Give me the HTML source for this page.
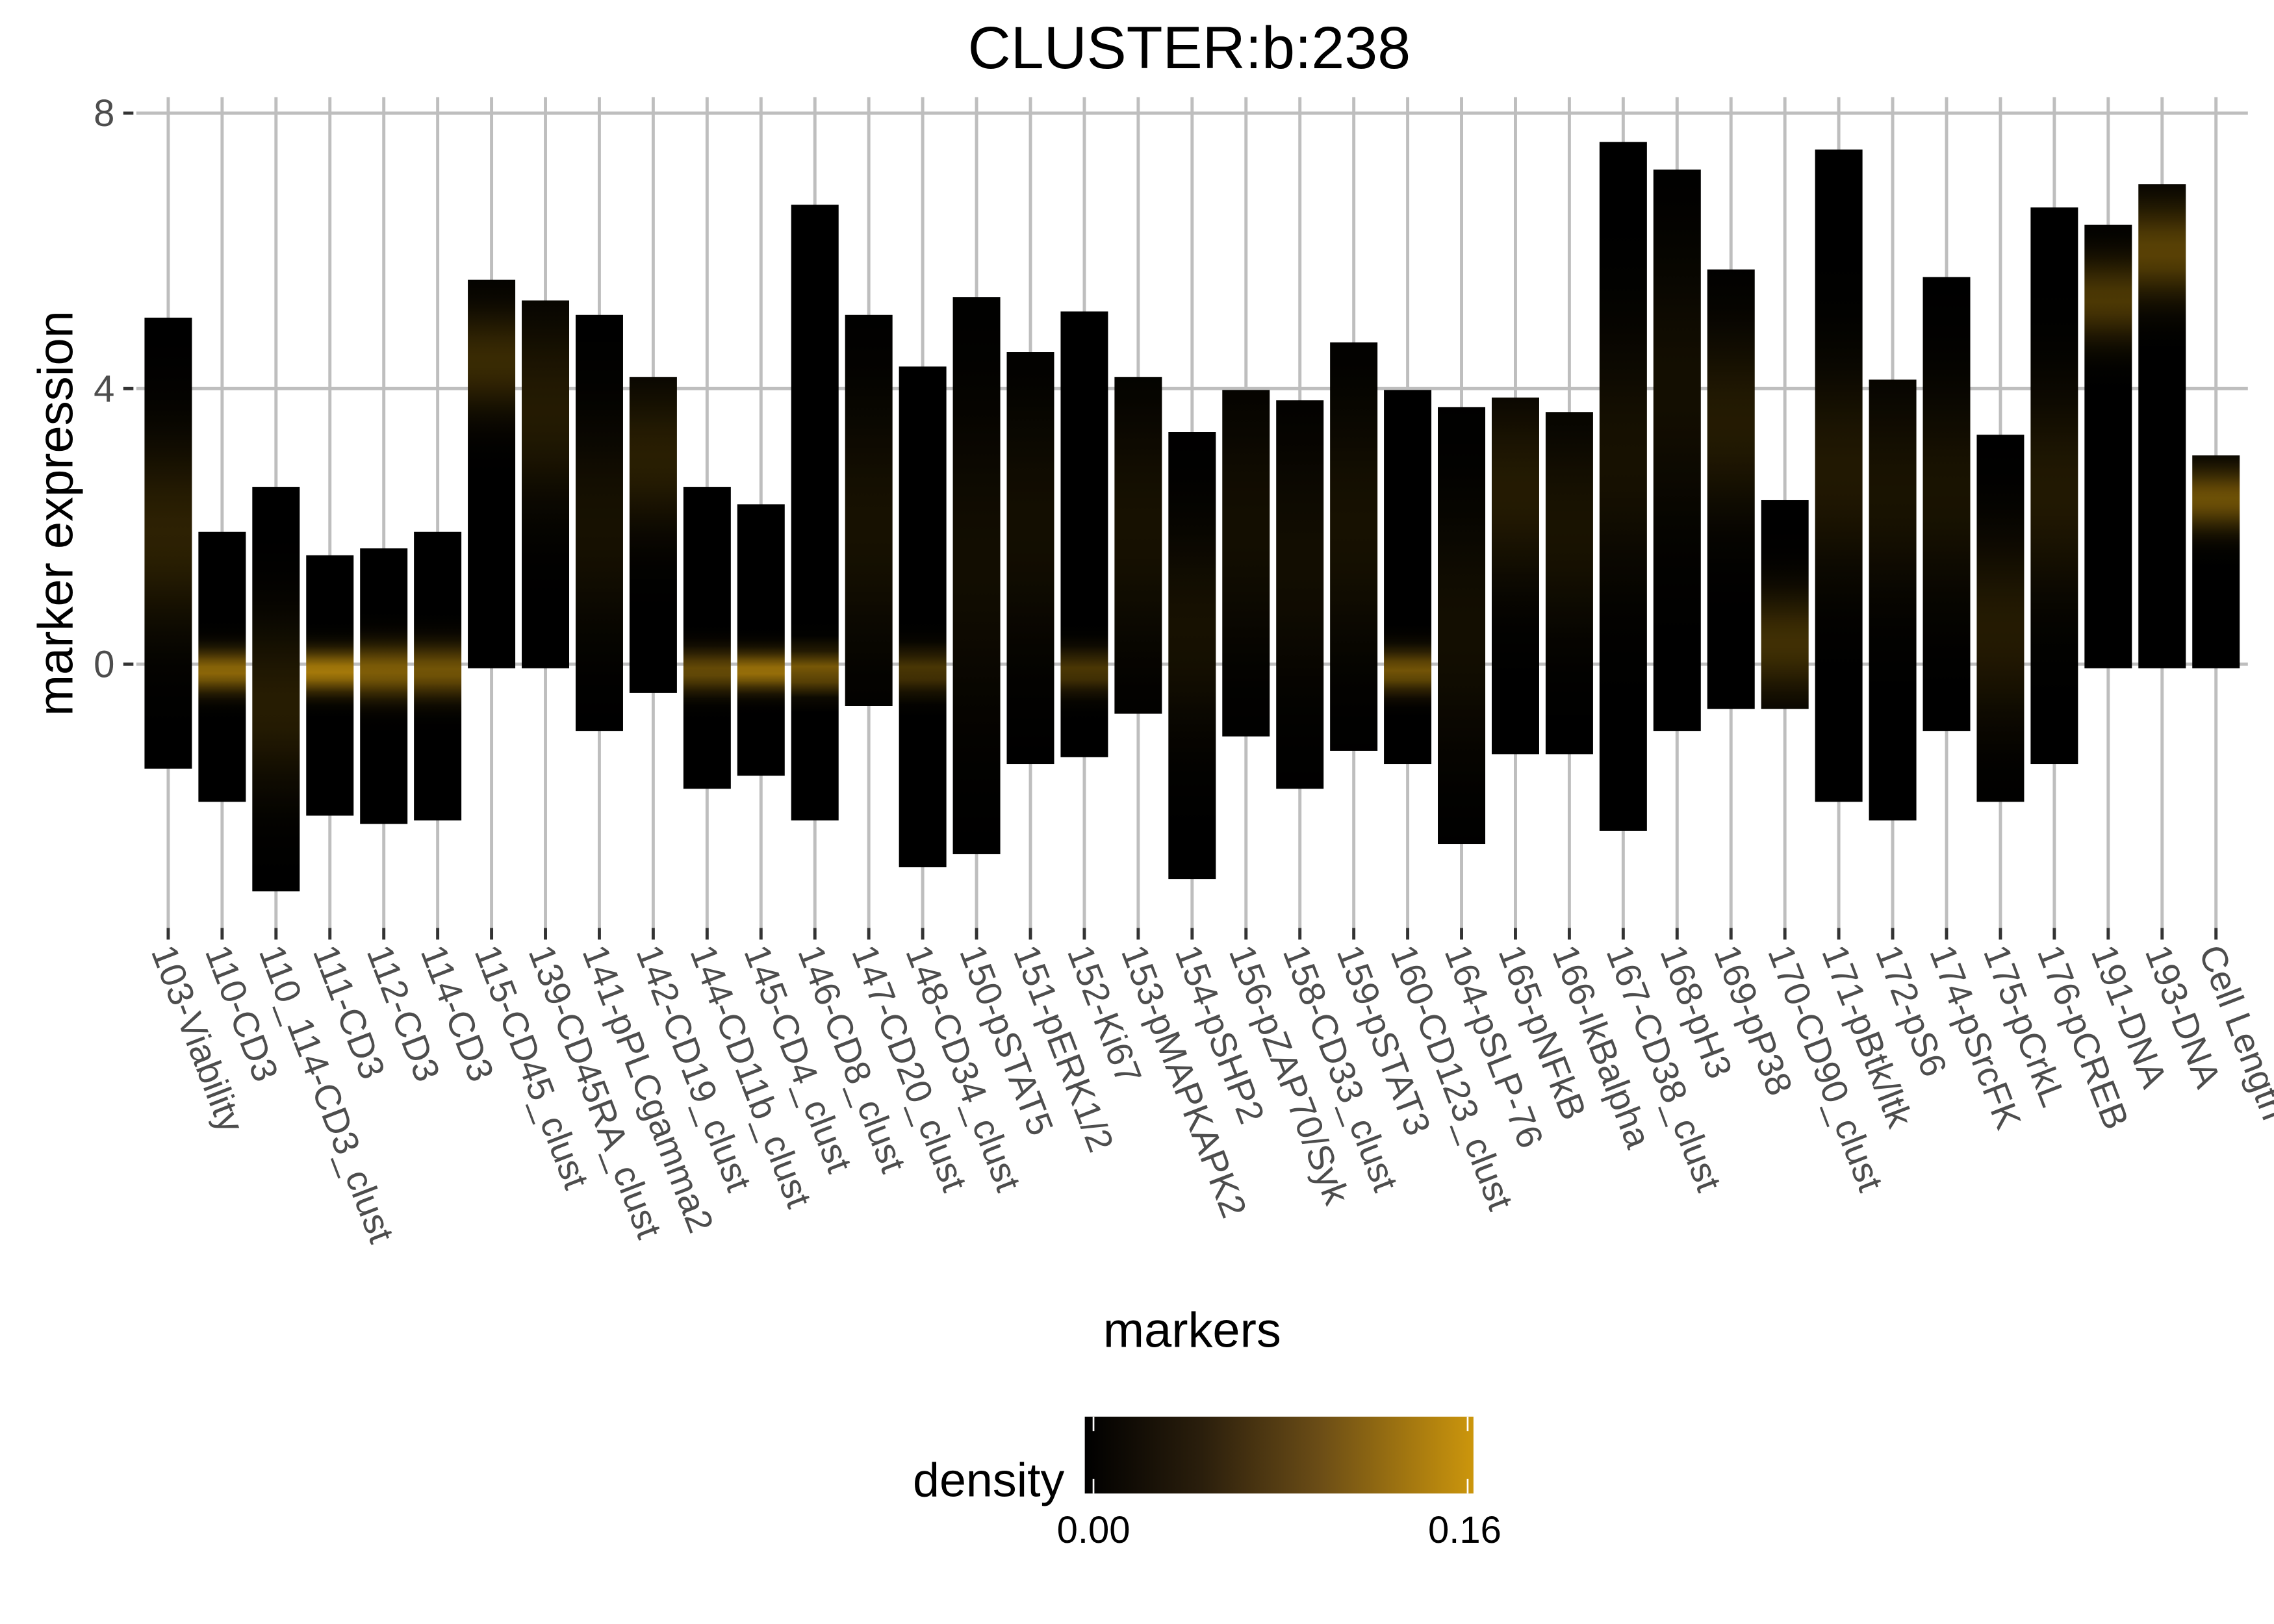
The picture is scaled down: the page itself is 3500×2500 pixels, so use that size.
<!DOCTYPE html>
<html><head><meta charset="utf-8"><style>
html,body{margin:0;padding:0;background:#fff;}
svg{display:block;font-family:"Liberation Sans",Arial,sans-serif;}
</style></head><body>
<svg id="chart" width="3500" height="2500" viewBox="0 0 1568 1120" xmlns="http://www.w3.org/2000/svg">
<defs id="defs">
<linearGradient id="legendGrad" x1="0" y1="0" x2="1" y2="0">
<stop offset="0" stop-color="#000"/><stop offset="0.3" stop-color="#2a1e0c"/><stop offset="0.6" stop-color="#6a4c16"/><stop offset="1" stop-color="#cc960c"/>
</linearGradient>
</defs>
<g id="grid"></g>
<g id="bars"></g>
<g id="axes"></g>
<text x="820" y="47" font-size="41" text-anchor="middle" fill="#000">CLUSTER:b:238</text>
<text transform="translate(50,354) rotate(-90)" font-size="34" text-anchor="middle" fill="#000">marker expression</text>
<text x="822" y="929" font-size="34" text-anchor="middle" fill="#000">markers</text>
<g>
<text x="734" y="1032" font-size="33" text-anchor="end" fill="#000">density</text>
<rect x="748" y="977" width="268" height="53" fill="url(#legendGrad)"/>
<line x1="754" y1="977" x2="754" y2="987" stroke="#fff" stroke-width="1.2"/>
<line x1="754" y1="1020" x2="754" y2="1030" stroke="#fff" stroke-width="1.2"/>
<line x1="1012" y1="977" x2="1012" y2="987" stroke="#fff" stroke-width="1.2"/>
<line x1="1012" y1="1020" x2="1012" y2="1030" stroke="#fff" stroke-width="1.2"/>
<text x="754" y="1064" font-size="26" text-anchor="middle" fill="#000">0.00</text>
<text x="1010" y="1064" font-size="26" text-anchor="middle" fill="#000">0.16</text>
</g>
</svg>
<script>
const markers = ["103-Viability","110-CD3","110_114-CD3_clust","111-CD3","112-CD3","114-CD3","115-CD45_clust","139-CD45RA_clust","141-pPLCgamma2","142-CD19_clust","144-CD11b_clust","145-CD4_clust","146-CD8_clust","147-CD20_clust","148-CD34_clust","150-pSTAT5","151-pERK1/2","152-Ki67","153-pMAPKAPK2","154-pSHP2","156-pZAP70/Syk","158-CD33_clust","159-pSTAT3","160-CD123_clust","164-pSLP-76","165-pNFkB","166-IkBalpha","167-CD38_clust","168-pH3","169-pP38","170-CD90_clust","171-pBtk/ltk","172-pS6","174-pSrcFK","175-pCrkL","176-pCREB","191-DNA","193-DNA","Cell Length"];
const maxVals = [5.03,1.92,2.57,1.58,1.68,1.92,5.58,5.28,5.07,4.17,2.57,2.32,6.67,5.07,4.32,5.33,4.53,5.12,4.17,3.37,3.98,3.83,4.67,3.98,3.73,3.87,3.66,7.58,7.18,5.73,2.38,7.47,4.13,5.62,3.33,6.63,6.38,6.97,3.03];
const minVals = [-1.52,-2.0,-3.3,-2.2,-2.32,-2.27,-0.06,-0.06,-0.97,-0.42,-1.81,-1.62,-2.27,-0.61,-2.95,-2.76,-1.45,-1.35,-0.72,-3.12,-1.05,-1.81,-1.26,-1.45,-2.61,-1.31,-1.31,-2.42,-0.97,-0.65,-0.65,-2.0,-2.27,-0.97,-2.0,-1.45,-0.06,-0.06,-0.06];
const peakVals = [1.9,-0.1,-0.6,-0.1,-0.1,-0.1,4.4,3.7,2.0,3.0,-0.1,-0.1,-0.1,2.0,-0.1,1.5,2.0,-0.1,2.0,0.5,2.0,1.5,2.0,-0.1,0.5,2.5,2.0,3.0,4.0,3.5,0.3,2.8,2.5,2.5,0.5,2.5,5.3,6.0,2.4];
const peakDensity = [0.035,0.11,0.03,0.13,0.1,0.09,0.045,0.028,0.018,0.032,0.08,0.12,0.1,0.018,0.06,0.014,0.015,0.06,0.018,0.018,0.015,0.014,0.018,0.09,0.015,0.028,0.02,0.018,0.015,0.028,0.05,0.026,0.02,0.02,0.028,0.026,0.06,0.07,0.085];
const peakSpread = [0.9,0.2,0.8,0.2,0.25,0.25,0.5,0.9,1.0,0.7,0.2,0.18,0.18,1.2,0.2,1.5,1.2,0.2,1.2,1.0,1.2,1.2,1.2,0.2,1.2,0.9,1.0,1.2,1.3,0.9,0.5,1.0,1.0,1.0,0.9,1.0,0.4,0.45,0.3];
const yTicks = [0,4,8];
const densityMax = 0.16;

const NS="http://www.w3.org/2000/svg";
const panel={l:94,r:1550,t:67,b:640};
const y0=458, yPer=47.5;
function yScale(v){return y0 - v*yPer;}
const step=(1528-116)/(markers.length-1);
function xScale(i){return 116 + i*step;}
const barW=step*0.88;
function mk(tag,attrs,parent){const e=document.createElementNS(NS,tag);for(const k in attrs)e.setAttribute(k,attrs[k]);parent.appendChild(e);return e;}
function colorFor(d){
  const t=Math.max(0,Math.min(1,d/densityMax));
  const r=Math.round(204*t), g=Math.round(150*t), b=Math.round(12*t);
  return `rgb(${r},${g},${b})`;
}
const grid=document.getElementById('grid'), bars=document.getElementById('bars'), axes=document.getElementById('axes'), defs=document.getElementById('defs');
yTicks.forEach(v=>{
  const l=mk('line',{x1:panel.l,x2:panel.r,y1:yScale(v),y2:yScale(v),stroke:'#bebebe','stroke-width':2.2},grid);
  
  
  const t=mk('line',{x1:85,x2:92,y1:yScale(v),y2:yScale(v),stroke:'#333','stroke-width':2.2},axes);
  
  
  const tx=mk('text',{x:79,y:yScale(v)+9,'font-size':26,'text-anchor':'end',fill:'#4d4d4d'},axes);
  tx.textContent=String(v);
  
  
});
markers.forEach((m,i)=>{
  const x=xScale(i);
  const gl=mk('line',{x1:x,x2:x,y1:panel.t,y2:panel.b,stroke:'#bebebe','stroke-width':2.2},grid);
  
  
  const top=yScale(maxVals[i]), bot=yScale(minVals[i]);
  const gid='g'+i;
  const lg=mk('linearGradient',{id:gid,x1:0,y1:top,x2:0,y2:bot,gradientUnits:'userSpaceOnUse'},defs);
  const N=40;
  for(let k=0;k<=N;k++){
    const v=maxVals[i]-(maxVals[i]-minVals[i])*k/N;
    const z=(v-peakVals[i])/peakSpread[i];
    const d=peakDensity[i]*Math.exp(-0.5*z*z);
    mk('stop',{offset:k/N,'stop-color':colorFor(d)},lg);
  }
  const r=mk('rect',{x:x-barW/2,y:top,width:barW,height:bot-top,fill:'url(#'+gid+')'},bars);
  
  
  const tk=mk('line',{x1:x,x2:x,y1:640,y2:648,stroke:'#333','stroke-width':2.2},axes);
  
  
  const t=mk('text',{transform:`translate(${x-12},656) rotate(69)`,'font-size':25,fill:'#4d4d4d'},axes);
  t.textContent=m;
  
  
});
</script>
</body></html>
